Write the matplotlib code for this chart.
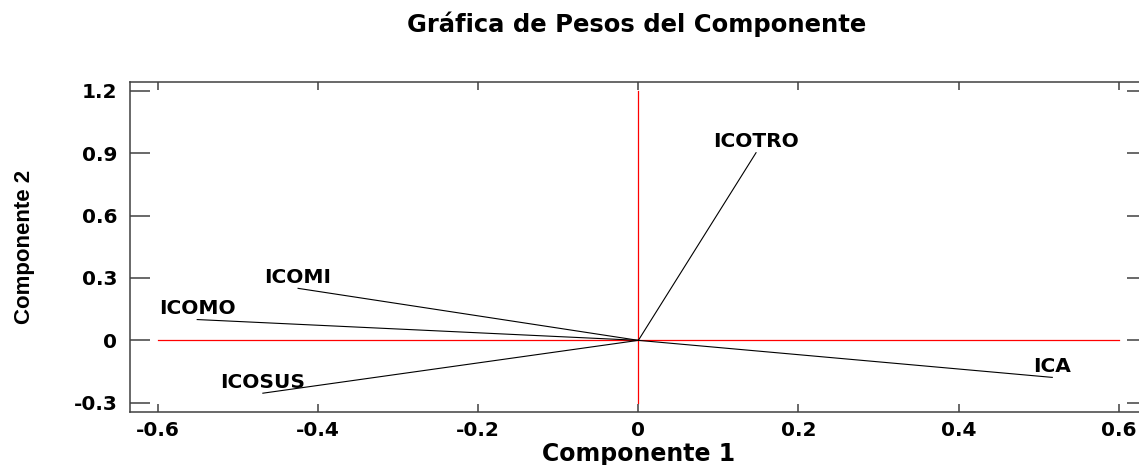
import numpy as np
import matplotlib
matplotlib.use("Agg")
import matplotlib.pyplot as plt

# pesos de los componentes
variables = ["ICOTRO", "ICA", "ICOMI", "ICOMO", "ICOSUS"]
comp1 = [0.147, 0.517, -0.425, -0.551, -0.469]
comp2 = [0.902, -0.178, 0.250, 0.100, -0.254]

xticks = [-0.6, -0.4, -0.2, 0, 0.2, 0.4, 0.6]
xtick_labels = ["-0.6", "-0.4", "-0.2", "0", "0.2", "0.4", "0.6"]
yticks = [-0.3, 0, 0.3, 0.6, 0.9, 1.2]
ytick_labels = ["-0.3", "0", "0.3", "0.6", "0.9", "1.2"]

titulo = "Gráfica de Pesos del Componente"
xlab = "Componente 1"
ylab = "Componente 2"

FONT = "DejaVu Sans"
spine_col = "#404040"

fig = plt.figure(figsize=(11.39, 4.65), dpi=100)
ax = fig.add_axes([0.1141, 0.1146, 0.8927, 0.7091])

ax.set_xlim(-0.635, 0.635)
ax.set_ylim(-0.343, 1.242)

# ejes de referencia en rojo
ax.plot([xticks[0], xticks[-1]], [0, 0], color="#ff0000", lw=0.9, zorder=1)
ax.plot([0, 0], [yticks[0], yticks[-1]], color="#ff0000", lw=0.9, zorder=1)

# vectores de cada variable
for name, x, y in zip(variables, comp1, comp2):
    ax.plot([0, x], [0, y], color="black", lw=0.8, zorder=2)
    ax.annotate(name, (x, y), xytext=(0, 4), textcoords="offset points",
                ha="center", va="baseline", fontsize=14.5, fontweight="bold",
                family=FONT, color="black")

ax.set_xticks(xticks)
ax.set_xticklabels(xtick_labels)
ax.set_yticks(yticks)
ax.set_yticklabels(ytick_labels)

ax.tick_params(axis="x", direction="in", length=6, width=1.1, color=spine_col,
               top=True, pad=7, labelsize=14.5)
ax.tick_params(axis="y", direction="in", length=14.5, width=1.1, color=spine_col,
               right=True, pad=9, labelsize=14.5)
for lbl in ax.get_xticklabels() + ax.get_yticklabels():
    lbl.set_fontweight("bold")
    lbl.set_family(FONT)

for sp in ax.spines.values():
    sp.set_color(spine_col)
    sp.set_linewidth(1.1)

ax.set_xlabel(xlab, fontsize=17, fontweight="bold", family=FONT, labelpad=1)
ax.set_ylabel(ylab, fontsize=16, fontweight="bold", family="Liberation Sans",
              labelpad=28)

fig.text(0.5593, 0.948, titulo, ha="center", va="center", fontsize=17.5,
         fontweight="bold", family=FONT)

fig.savefig("out.png", dpi=100)
